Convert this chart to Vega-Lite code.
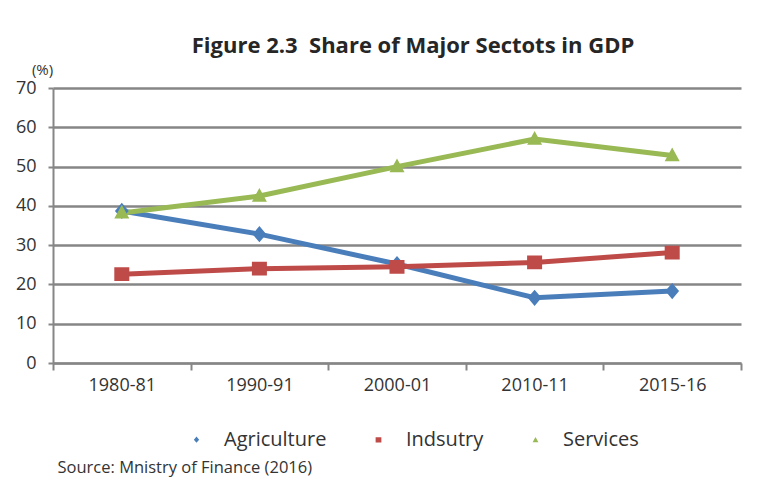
{
  "$schema": "https://vega.github.io/schema/vega-lite/v6.json",
  "width": 688,
  "height": 275,
  "autosize": {"type": "none"},
  "padding": {"left": 53, "top": 88, "right": 23, "bottom": 134},
  "background": "white",
  "title": {
    "text": "Figure 2.3\u00a0 Share of Major Sectots in GDP",
    "anchor": "middle",
    "frame": "group",
    "font": "Open Sans",
    "fontWeight": "bold",
    "fontSize": 22,
    "color": "#262626",
    "dx": 16,
    "offset": 4
  },
  "config": {"view": {"stroke": null}, "font": "Open Sans"},
  "data": {
    "values": [
      {"period": "1980-81", "sector": "Agriculture", "value": 38.7},
      {"period": "1990-91", "sector": "Agriculture", "value": 32.8},
      {"period": "2000-01", "sector": "Agriculture", "value": 25.2},
      {"period": "2010-11", "sector": "Agriculture", "value": 16.6},
      {"period": "2015-16", "sector": "Agriculture", "value": 18.3},
      {"period": "1980-81", "sector": "Indsutry", "value": 22.6},
      {"period": "1990-91", "sector": "Indsutry", "value": 24.0},
      {"period": "2000-01", "sector": "Indsutry", "value": 24.5},
      {"period": "2010-11", "sector": "Indsutry", "value": 25.6},
      {"period": "2015-16", "sector": "Indsutry", "value": 28.1},
      {"period": "1980-81", "sector": "Services", "value": 38.2},
      {"period": "1990-91", "sector": "Services", "value": 42.5},
      {"period": "2000-01", "sector": "Services", "value": 50.0},
      {"period": "2010-11", "sector": "Services", "value": 57.0},
      {"period": "2015-16", "sector": "Services", "value": 52.8}
    ]
  },
  "encoding": {
    "x": {
      "field": "period",
      "type": "nominal",
      "sort": ["1980-81", "1990-91", "2000-01", "2010-11", "2015-16"],
      "scale": {"type": "band", "paddingInner": 0, "paddingOuter": 0},
      "axis": {
        "tickBand": "extent",
        "labelAngle": 0,
        "labelFontSize": 18,
        "labelColor": "#333333",
        "labelPadding": 6,
        "tickSize": 7,
        "tickWidth": 2,
        "tickColor": "#868686",
        "domainColor": "#868686",
        "domainWidth": 2,
        "grid": false,
        "title": "Source: Mnistry of Finance (2016)",
        "titleX": 4,
        "titleY": 104,
        "titleAlign": "left",
        "titleBaseline": "middle",
        "titleFontSize": 16.5,
        "titleFontWeight": "normal",
        "titleColor": "#333333"
      }
    },
    "y": {
      "field": "value",
      "type": "quantitative",
      "scale": {"domain": [0, 70], "nice": false},
      "axis": {
        "values": [0, 10, 20, 30, 40, 50, 60, 70],
        "grid": true,
        "gridColor": "#868686",
        "gridWidth": 2.5,
        "domainColor": "#868686",
        "domainWidth": 2,
        "tickSize": 5,
        "tickWidth": 2,
        "tickColor": "#868686",
        "labelFontSize": 18,
        "labelColor": "#333333",
        "labelPadding": 12,
        "title": "(%)",
        "titleAngle": 0,
        "titleX": -11,
        "titleY": -19,
        "titleAlign": "center",
        "titleBaseline": "middle",
        "titleFontSize": 15,
        "titleFontWeight": "normal",
        "titleColor": "#333333"
      }
    }
  },
  "layer": [
    {
      "mark": {"type": "line", "strokeWidth": 5},
      "encoding": {
        "stroke": {
          "field": "sector",
          "type": "nominal",
          "scale": {"range": ["#4A7EBB", "#BE4B48", "#98B954"]},
          "legend": null
        }
      }
    },
    {
      "mark": {"type": "point", "filled": true, "opacity": 1, "size": 15625},
      "encoding": {
        "color": {
          "field": "sector",
          "type": "nominal",
          "scale": {"domain": ["Agriculture", "Indsutry", "Services"], "range": ["#4A7EBB", "#BE4B48", "#98B954"]},
          "legend": {
            "orient": "none",
            "legendX": 117,
            "legendY": 325,
            "direction": "horizontal",
            "title": null,
            "labelFontSize": 20,
            "labelColor": "#333333",
            "labelOffset": 1,
            "columnPadding": 17,
            "symbolSize": 2304,
            "symbolStrokeWidth": 5,
            "symbolStrokeColor": {"expr": "scale('color', datum.value)"},
            "symbolOpacity": 1
          }
        },
        "shape": {
          "field": "sector",
          "type": "nominal",
          "scale": {
            "domain": ["Agriculture", "Indsutry", "Services"],
            "range": [
              "M-1,0L1,0M0,-0.13L0.11,0L0,0.13L-0.11,0Z",
              "M-1,0L1,0M-0.12,-0.11L0.12,-0.11L0.12,0.11L-0.12,0.11Z",
              "M-1,0L1,0M0,-0.13L0.12,0.09L-0.12,0.09Z"
            ]
          },
          "legend": {
            "orient": "none",
            "legendX": 117,
            "legendY": 325,
            "direction": "horizontal",
            "title": null,
            "labelFontSize": 20,
            "labelColor": "#333333",
            "labelOffset": 1,
            "columnPadding": 17,
            "symbolSize": 2304,
            "symbolStrokeWidth": 5,
            "symbolStrokeColor": {"expr": "scale('color', datum.value)"},
            "symbolOpacity": 1
          }
        }
      }
    }
  ]
}
